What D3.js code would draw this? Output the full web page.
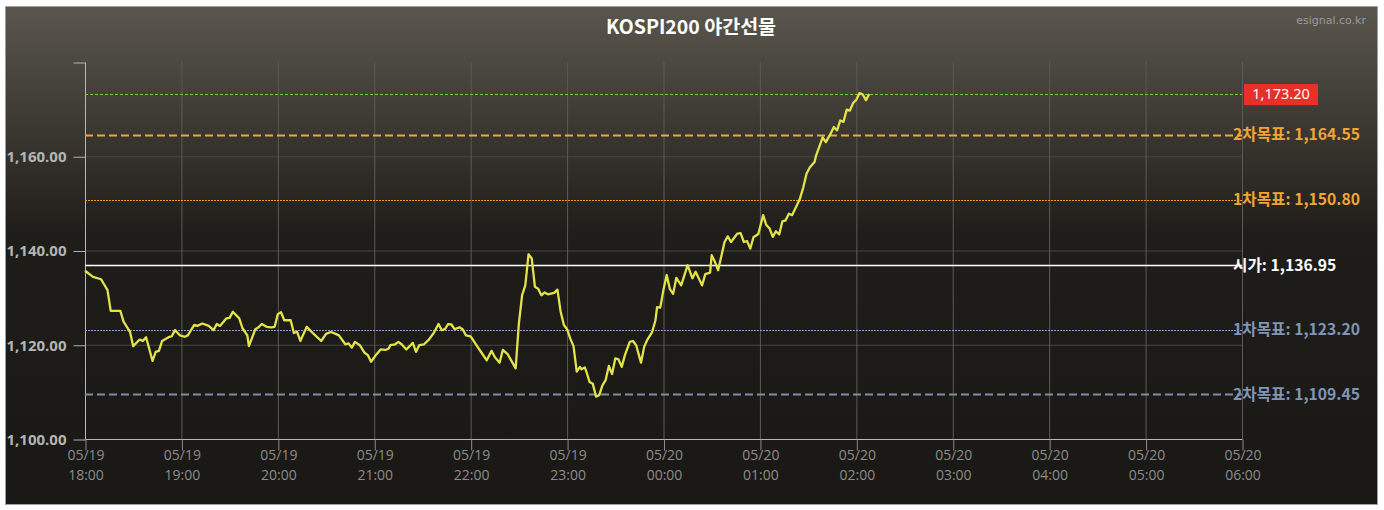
<!DOCTYPE html>
<html>
<head>
<meta charset="utf-8">
<script src="https://cdn.jsdelivr.net/npm/d3@7"></script>
<style>
  body { margin: 0; background: #fff; }
  svg { display: block; }
</style>
</head>
<body>
<div id="chart"></div>
<script>
const width = 1384;
const height = 510;
const margin = {top: 62, right: 142, bottom: 71, left: 85};

// session start, minutes after 18:00, and prices
const sessionStart = new Date(2020, 4, 19, 18, 0);
const sessionHours = 12;
const mins = [0, 5, 10, 14, 16, 22, 24, 28, 30, 34, 36, 38, 42, 44, 46, 48, 52, 54, 56, 59,
  62, 64, 68, 70, 73, 77, 80, 82, 84, 88, 90, 92, 96, 98, 101, 102, 106, 108, 110, 113,
  116, 118, 120, 122, 124, 128, 130, 132, 134, 138, 142, 147, 150, 153, 156, 158, 162, 164, 166, 168,
  171, 174, 176, 178, 181, 184, 187, 189, 190, 193, 195, 197, 200, 204, 206, 208, 211, 214, 217, 220,
  222, 224, 226, 228, 230, 233, 235, 237, 240, 244, 247, 250, 253, 255, 258, 260, 263, 266, 268, 270,
  272, 274, 276, 278, 280, 282, 284, 286, 288, 292, 294, 296, 298, 300, 302, 304, 306, 308, 309, 311,
  312, 314, 316, 318, 320, 322, 324, 326, 328, 330, 332, 334, 336, 339, 341, 343, 346, 348, 350, 353,
  355, 356, 358, 360, 362, 364, 366, 368, 371, 375, 378, 380, 384, 386, 389, 390, 392, 394, 398, 400,
  402, 406, 408, 410, 412, 414, 416, 419, 422, 424, 426, 428, 430, 432, 434, 436, 438, 440, 443, 445,
  447, 449, 451, 454, 455, 458, 459, 461, 464, 466, 468, 470, 472, 474, 476, 478, 480, 482, 484, 486, 488];
const prices = [1135.7, 1134.4, 1133.9, 1131.6, 1127.2, 1127.2, 1124.9, 1122.75, 1119.7, 1121.1, 1120.8, 1121.6, 1116.6, 1118.5, 1118.7, 1120.8, 1121.6, 1121.8, 1123.1, 1122.0,
  1121.7, 1122.0, 1124.2, 1124.0, 1124.5, 1124.0, 1123.1, 1124.4, 1124.0, 1125.6, 1125.7, 1127.0, 1125.6, 1123.5, 1122.0, 1119.7, 1123.3, 1123.7, 1124.4, 1123.8,
  1123.7, 1123.8, 1126.5, 1126.9, 1125.2, 1125.2, 1122.5, 1122.75, 1120.8, 1123.8, 1122.4, 1120.8, 1122.3, 1122.7, 1122.3, 1122.0, 1120.1, 1120.3, 1119.4, 1120.6,
  1119.9, 1118.3, 1117.8, 1116.4, 1117.8, 1119.0, 1118.9, 1119.2, 1119.9, 1120.1, 1120.6, 1120.1, 1119.0, 1120.4, 1118.5, 1119.9, 1120.1, 1121.1, 1122.5, 1124.4,
  1123.1, 1123.3, 1124.4, 1124.3, 1123.3, 1123.7, 1123.3, 1122.0, 1121.8, 1119.7, 1118.2, 1116.7, 1118.7, 1117.4, 1116.2, 1118.9, 1118.0, 1116.2, 1115.0, 1124.5,
  1130.5, 1132.6, 1139.2, 1138.3, 1132.3, 1131.9, 1130.5, 1131.1, 1130.7, 1131.0, 1131.7, 1127.0, 1124.2, 1123.3, 1121.3, 1119.7, 1114.3, 1115.3, 1114.8, 1115.2,
  1114.3, 1112.1, 1111.7, 1109.0, 1109.3, 1111.4, 1112.5, 1115.5, 1113.8, 1117.1, 1116.9, 1115.3, 1117.8, 1120.6, 1120.8, 1119.9, 1116.2, 1119.6, 1121.1, 1122.75,
  1125.2, 1128.0, 1127.9, 1131.7, 1134.8, 1131.8, 1130.8, 1134.2, 1132.6, 1136.9, 1134.1, 1135.5, 1132.6, 1135.0, 1135.3, 1139.0, 1137.6, 1135.8, 1141.8, 1143.0,
  1141.8, 1143.6, 1143.7, 1141.8, 1142.0, 1140.4, 1142.8, 1143.5, 1147.5, 1145.4, 1144.7, 1142.9, 1144.1, 1143.4, 1146.2, 1146.4, 1147.8, 1147.5, 1149.6, 1151.1,
  1153.4, 1156.3, 1157.6, 1158.8, 1160.2, 1163.0, 1164.0, 1163.0, 1164.8, 1166.2, 1165.5, 1167.6, 1167.3, 1169.9, 1169.7, 1171.3, 1172.0, 1173.4, 1173.1, 1171.9, 1173.2];

// support / resistance levels
const refNames = ["2차목표", "1차목표", "시가", "1차목표", "2차목표"];
const refValues = [1164.55, 1150.80, 1136.95, 1123.20, 1109.45];
const yTicks = [1100, 1120, 1140, 1160, 1180];

const refStyles = [
  {stroke: "#f2a434", width: 2, dash: "8,4", label: "#f2a434"},
  {stroke: "#f39a2a", width: 1, dash: "2,1", label: "#f2a434"},
  {stroke: "#ffffff", width: 1.5, dash: null, label: "#ffffff"},
  {stroke: "#8d9fc6", width: 1, dash: "2,1", label: "#7f95b6"},
  {stroke: "#7a8ea8", width: 2, dash: "8,4", label: "#7f95b6"}
];

const data = mins.map((m, i) => ({
  t: new Date(sessionStart.getTime() + m * 60000),
  v: prices[i]
}));

const svg = d3.select("#chart")
  .append("svg")
  .attr("width", width)
  .attr("height", height);

const defs = svg.append("defs");
const bg = defs.append("linearGradient")
  .attr("id", "bgGrad")
  .attr("x1", 0).attr("y1", 0).attr("x2", 0).attr("y2", 1);
bg.append("stop").attr("offset", "0%").attr("stop-color", "#5a564d");
bg.append("stop").attr("offset", "46%").attr("stop-color", "#1f1d19");
bg.append("stop").attr("offset", "100%").attr("stop-color", "#1a1814");

svg.append("rect")
  .attr("x", 5.5).attr("y", 6.5)
  .attr("width", 1372).attr("height", 498)
  .attr("fill", "url(#bgGrad)")
  .attr("stroke", "#a0a0a0");

const x = d3.scaleTime()
  .domain([sessionStart, d3.timeHour.offset(sessionStart, sessionHours)])
  .range([margin.left, width - margin.right]);

const y = d3.scaleLinear()
  .domain([1100, 1180])
  .range([height - margin.bottom, margin.top]);

const hours = d3.timeHour.range(sessionStart, d3.timeHour.offset(sessionStart, sessionHours + 1));

// grid
svg.append("g")
  .selectAll("line")
  .data(yTicks.slice(1, -1))
  .join("line")
  .attr("x1", margin.left).attr("x2", width - margin.right)
  .attr("y1", d => y(d) + 0.5).attr("y2", d => y(d) + 0.5)
  .attr("stroke", "#474542");

svg.append("g")
  .selectAll("line")
  .data(hours.slice(1))
  .join("line")
  .attr("x1", d => x(d) + 0.5).attr("x2", d => x(d) + 0.5)
  .attr("y1", margin.top).attr("y2", height - margin.bottom)
  .attr("stroke", "#5c5a56");

// axes
const fmtDate = d3.timeFormat("%m/%d");
const fmtTime = d3.timeFormat("%H:%M");

const xAxis = svg.append("g")
  .attr("transform", `translate(0.5,${height - margin.bottom + 0.5})`)
  .call(d3.axisBottom(x).tickValues(hours).tickSize(11).tickFormat(""));
xAxis.select(".domain").attr("stroke", "#b8b8b8").attr("d", `M${margin.left},0H${width - margin.right}`);
xAxis.selectAll(".tick line").attr("stroke", "#8a8a8a");
xAxis.selectAll(".tick").append("text")
  .attr("fill", "#8c8c8c")
  .attr("font-family", "'Open Sans', sans-serif")
  .attr("font-size", "14px")
  .attr("text-anchor", "middle")
  .each(function(d) {
    const t = d3.select(this);
    t.append("tspan").attr("x", 0).attr("y", 20).text(fmtDate(d));
    t.append("tspan").attr("x", 0).attr("y", 40).text(fmtTime(d));
  });

const yAxis = svg.append("g")
  .attr("transform", `translate(${margin.left + 0.5},0.5)`)
  .call(d3.axisLeft(y).tickValues(yTicks).tickSize(12).tickPadding(7)
    .tickFormat(d => d === 1180 ? "" : d3.format(",.2f")(d)));
yAxis.select(".domain").attr("stroke", "#b8b8b8").attr("d", `M0,${y(1180)}V${y(1100)}`);
yAxis.selectAll(".tick line").attr("stroke", "#b0b0b0");
yAxis.selectAll(".tick text")
  .attr("fill", "#b4b4b4")
  .attr("font-family", "'Open Sans', sans-serif")
  .attr("font-weight", "bold")
  .attr("font-size", "15px");

// reference lines
const refs = svg.append("g");
refValues.forEach((v, i) => {
  const s = refStyles[i];
  refs.append("line")
    .attr("x1", margin.left).attr("x2", width - margin.right)
    .attr("y1", Math.round(y(v)) + 0.5).attr("y2", Math.round(y(v)) + 0.5)
    .attr("stroke", s.stroke)
    .attr("stroke-width", s.width)
    .attr("stroke-dasharray", s.dash);
  refs.append("text")
    .attr("x", 1233)
    .attr("y", y(v))
    .attr("dy", "0.36em")
    .attr("fill", s.label)
    .attr("font-family", "'Noto Sans CJK KR', sans-serif")
    .attr("font-weight", "bold")
    .attr("font-size", "15.7px")
    .text(`${refNames[i]}: ${d3.format(",.2f")(v)}`);
});

// last price line and tag
const last = prices[prices.length - 1];
svg.append("line")
  .attr("x1", margin.left).attr("x2", width - margin.right)
  .attr("y1", Math.round(y(last)) + 0.5).attr("y2", Math.round(y(last)) + 0.5)
  .attr("stroke", "#78cc3c")
  .attr("stroke-dasharray", "3,2");

svg.append("rect")
  .attr("x", 1244).attr("y", y(last) - 10)
  .attr("width", 74).attr("height", 21)
  .attr("fill", "#e8302a");
svg.append("text")
  .attr("x", 1281).attr("y", y(last))
  .attr("dy", "0.36em")
  .attr("text-anchor", "middle")
  .attr("fill", "#fff")
  .attr("font-family", "'Noto Sans', sans-serif")
  .attr("font-size", "14.5px")
  .text(d3.format(",.2f")(last));

// price line
svg.append("path")
  .datum(data)
  .attr("fill", "none")
  .attr("stroke", "#e2e24a")
  .attr("stroke-width", 2.3)
  .attr("stroke-linejoin", "round")
  .attr("d", d3.line().x(d => x(d.t)).y(d => y(d.v)));

// title
svg.append("text")
  .attr("x", 691).attr("y", 34)
  .attr("text-anchor", "middle")
  .attr("fill", "#fff")
  .attr("font-family", "'Noto Sans CJK KR', sans-serif")
  .attr("font-weight", "bold")
  .attr("font-size", "19.5px")
  .text("KOSPI200 야간선물");

svg.append("text")
  .attr("x", 1366).attr("y", 24)
  .attr("text-anchor", "end")
  .attr("fill", "#9a9a9a")
  .attr("font-family", "'DejaVu Sans', sans-serif")
  .attr("font-size", "11px")
  .text("esignal.co.kr");
</script>
</body>
</html>
